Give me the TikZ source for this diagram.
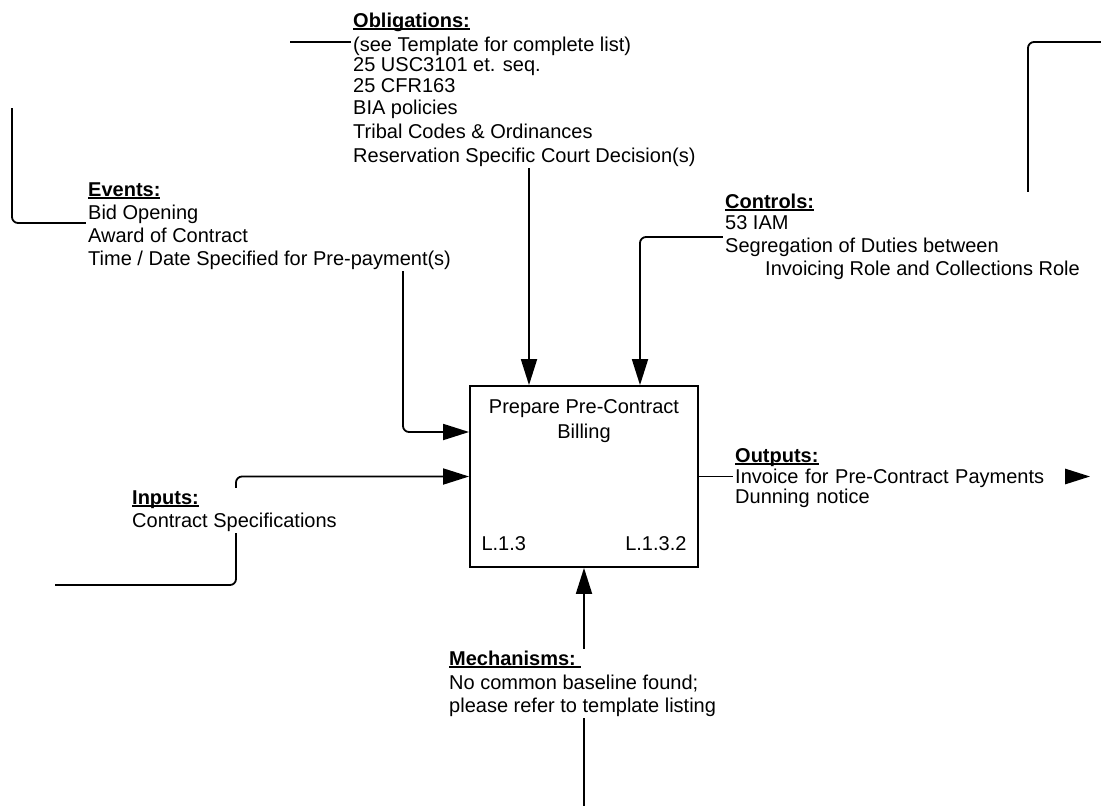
\documentclass[tikz,border=0pt]{standalone}
\usepackage{fontspec}
\setmainfont{Liberation Sans}
\usetikzlibrary{arrows.meta}
\newsavebox\headbox
\newcommand\idefhead[1]{\sbox\headbox{\textbf{#1}}\rlap{\rule[-2.5pt]{\wd\headbox}{1.4pt}}\usebox\headbox}

\begin{document}
\begin{tikzpicture}[x=1pt,y=-1pt,
	every node/.style={font=\fontsize{20}{23}\selectfont},
	flow/.style={line width=1.8pt,rounded corners=6pt,-{Triangle[length=26pt,width=16pt]}},
	note/.style={anchor=base west,align=left,fill=white,inner sep=2pt}]
	\useasboundingbox (0,0) rectangle (1101,806);

	\node[draw,line width=1.8pt,minimum width=228pt,minimum height=181pt] (act) at (584,476.5) {};
	\node[anchor=base,align=center] (acttitle) at (584,438) {Prepare Pre-Contract\\[2pt]Billing};
	\node[anchor=base west] (actnode) at (478,550) {L.1.3};
	\node[anchor=base east] (actid) at (690,550) {L.1.3.2};

	\coordinate (obl) at (290,42);
	\coordinate (evt) at (12,108);
	\coordinate (ctl) at (1101,42);
	\coordinate (inp) at (55,585);
	\coordinate (out) at (1090,476.5);
	\coordinate (mech) at (584,806);

	\draw[flow] (obl) -| ([xshift=-55pt]act.north);
	\draw[flow] (evt) |- (403,223) |- ([yshift=44.5pt]act.west);
	\draw[flow] (ctl) -- (1028,42) |- (640,237) -- ([xshift=56pt]act.north);
	\draw[flow] (inp) -| (236,476.5) -- (act.west);
	\draw[flow] (act.east) -- (out);
	\draw[flow] (mech) -- (act.south);

	\node[note] (obltxt) at (351,162) {\idefhead{Obligations:}\\[1pt](see Template for complete list)\\[-3pt]25 USC3101 et. seq.\\[-2pt]25 CFR163\\[-1pt]BIA policies\\[1pt]Tribal Codes \& Ordinances\\[1pt]Reservation Specific Court Decision(s)};
	\node[note] (evttxt) at (86,265) {\idefhead{Events:}\\Bid Opening\\Award of Contract\\Time / Date Specified for Pre-payment(s)};
	\node[note] (ctltxt) at (723,275) {\idefhead{Controls:}\\[-2pt]53 IAM\\Segregation of Duties between\\\hspace*{40pt}Invoicing Role and Collections Role};
	\node[note] (inptxt) at (130,527) {\idefhead{Inputs:}\\Contract Specifications};
	\node[note,text width=328pt] (outtxt) at (733,462) {\idefhead{Outputs:}\\[-2pt]Invoice for Pre-Contract Payments\\[-3pt]Dunning notice};
	\node[note] (mechtxt) at (447,712) {\idefhead{Mechanisms:\ }\\[1pt]No common baseline found;\\please refer to template listing};
\end{tikzpicture}
\end{document}
